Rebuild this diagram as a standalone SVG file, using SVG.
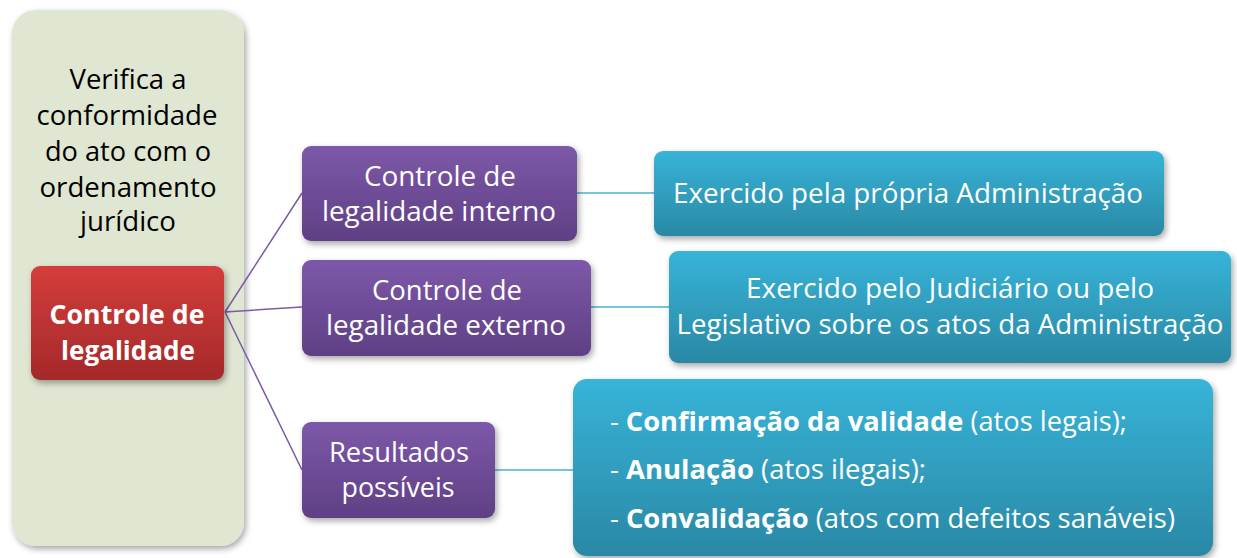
<svg xmlns="http://www.w3.org/2000/svg" width="1237" height="558" viewBox="0 0 1237 558">
<defs>
<linearGradient id="gRed" x1="0" y1="0" x2="0" y2="1"><stop offset="0" stop-color="#d43d3b"/><stop offset="1" stop-color="#a4292a"/></linearGradient>
<linearGradient id="gPur" x1="0" y1="0" x2="0" y2="1"><stop offset="0" stop-color="#7d58a9"/><stop offset="1" stop-color="#5f4084"/></linearGradient>
<linearGradient id="gTeal" x1="0" y1="0" x2="0" y2="1"><stop offset="0" stop-color="#37b4d8"/><stop offset="1" stop-color="#2a88a5"/></linearGradient>
<filter id="sh" x="-10%" y="-10%" width="125%" height="130%"><feDropShadow dx="2" dy="3" stdDeviation="3" flood-color="#000" flood-opacity="0.35"/></filter>
</defs>
<style>
text{font-family:"Open Sans","Noto Sans",sans-serif;font-size:27px;text-anchor:middle;}
.w{fill:#ffffff}
.k{fill:#000000}
.b{font-weight:bold}
.l{text-anchor:start}
</style>
<rect width="1237" height="558" fill="#ffffff"/>
<g id="panel">
<rect x="12" y="10" width="232" height="536" rx="24" fill="#dfe6d1" filter="url(#sh)"/>
<text class="k" x="128" y="89" textLength="117" lengthAdjust="spacingAndGlyphs">Verifica a</text>
<text class="k" x="127" y="125" textLength="181" lengthAdjust="spacingAndGlyphs">conformidade</text>
<text class="k" x="128" y="161" textLength="166" lengthAdjust="spacingAndGlyphs">do ato com o</text>
<text class="k" x="128" y="197" textLength="177" lengthAdjust="spacingAndGlyphs">ordenamento</text>
<text class="k" x="128" y="231" textLength="96" lengthAdjust="spacingAndGlyphs">jurídico</text>
</g>
<g id="connectors" fill="none" stroke-width="1.5">
<path d="M225 312 L302 193 M225 312 L302 307 M225 312 L302 470" stroke="#7b5aa6"/>
<path d="M577 193 H654 M591 307 H669 M495 470 H573" stroke="#4bb3cf"/>
</g>
<g id="root">
<rect x="31" y="266" width="193" height="114" rx="9" fill="url(#gRed)" filter="url(#sh)"/>
<text class="w b" x="127" y="324" textLength="155" lengthAdjust="spacingAndGlyphs">Controle de</text>
<text class="w b" x="128" y="360" textLength="134" lengthAdjust="spacingAndGlyphs">legalidade</text>
</g>
<g id="interno">
<rect x="302" y="146" width="275" height="95" rx="9" fill="url(#gPur)" filter="url(#sh)"/>
<text class="w" x="440" y="186" textLength="152" lengthAdjust="spacingAndGlyphs">Controle de</text>
<text class="w" x="439" y="221" textLength="234" lengthAdjust="spacingAndGlyphs">legalidade interno</text>
</g>
<g id="externo">
<rect x="302" y="260" width="289" height="96" rx="9" fill="url(#gPur)" filter="url(#sh)"/>
<text class="w" x="447" y="300" textLength="150" lengthAdjust="spacingAndGlyphs">Controle de</text>
<text class="w" x="446" y="335" textLength="240" lengthAdjust="spacingAndGlyphs">legalidade externo</text>
</g>
<g id="resultados">
<rect x="302" y="422" width="193" height="96" rx="9" fill="url(#gPur)" filter="url(#sh)"/>
<text class="w" x="399" y="462" textLength="140" lengthAdjust="spacingAndGlyphs">Resultados</text>
<text class="w" x="398" y="497" textLength="113" lengthAdjust="spacingAndGlyphs">possíveis</text>
</g>
<g id="interno-desc">
<rect x="654" y="151" width="510" height="85" rx="9" fill="url(#gTeal)" filter="url(#sh)"/>
<text class="w" x="908" y="203" textLength="470" lengthAdjust="spacingAndGlyphs">Exercido pela própria Administração</text>
</g>
<g id="externo-desc">
<rect x="669" y="251" width="562" height="112" rx="9" fill="url(#gTeal)" filter="url(#sh)"/>
<text class="w" x="950" y="298" textLength="408" lengthAdjust="spacingAndGlyphs">Exercido pelo Judiciário ou pelo</text>
<text class="w" x="950" y="334" textLength="547" lengthAdjust="spacingAndGlyphs">Legislativo sobre os atos da Administração</text>
</g>
<g id="resultados-desc">
<rect x="573" y="379" width="640" height="177" rx="14" fill="url(#gTeal)" filter="url(#sh)"/>
<text class="w l" x="610" y="431" textLength="517" lengthAdjust="spacingAndGlyphs">- <tspan class="b">Confirmação da validade</tspan> (atos legais);</text>
<text class="w l" x="610" y="479" textLength="316" lengthAdjust="spacingAndGlyphs">- <tspan class="b">Anulação</tspan> (atos ilegais);</text>
<text class="w l" x="610" y="528" textLength="565" lengthAdjust="spacingAndGlyphs">- <tspan class="b">Convalidação</tspan> (atos com defeitos sanáveis)</text>
</g>
</svg>
